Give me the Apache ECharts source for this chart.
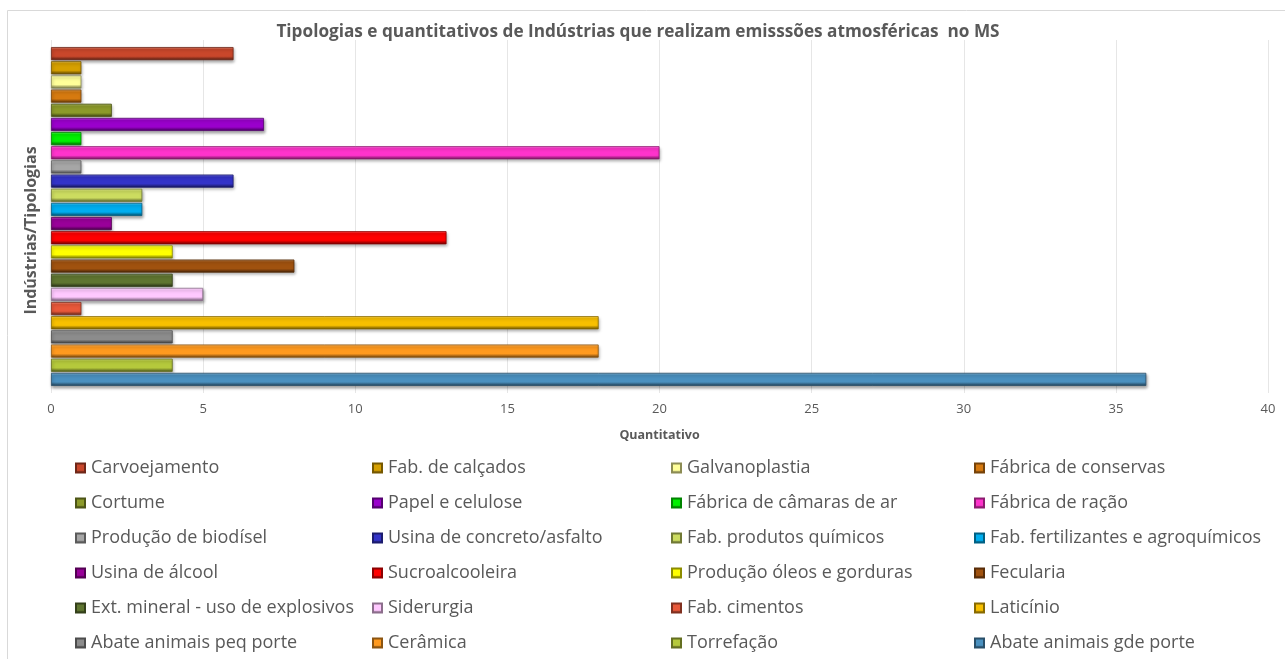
<!DOCTYPE html>
<html><head><meta charset="utf-8">
<script src="https://cdn.jsdelivr.net/npm/echarts@6/dist/echarts.min.js"></script>
<style>html,body{margin:0;padding:0;background:#fff}#c{width:1285px;height:659px}</style>
</head><body><div id="c"></div>
<script>
// ---- data ----
const names = ["Carvoejamento","Fab. de calçados","Galvanoplastia","Fábrica de conservas","Cortume","Papel e celulose","Fábrica de câmaras de ar","Fábrica de ração","Produção de biodísel","Usina de concreto/asfalto","Fab. produtos químicos","Fab. fertilizantes e agroquímicos","Usina de álcool","Sucroalcooleira","Produção óleos e gorduras","Fecularia","Ext. mineral - uso de explosivos","Siderurgia","Fab. cimentos","Laticínio","Abate animais peq porte","Cerâmica","Torrefação","Abate animais gde porte"];
const values = [6,1,1,1,2,7,1,20,1,6,3,3,2,13,4,8,4,5,1,18,4,18,4,36];
const colors = ["#C9472B","#D6A000","#FFFF99","#D67A10","#8C9A2A","#9A00CC","#00F000","#FF33CC","#A6A6A6","#3333C8","#CCDC60","#00AEEF","#990099","#FF0000","#FFFF00","#A0520F","#5F7530","#FFC8FF","#E8583A","#F8C000","#8C8C8C","#FF9A1F","#B5C93C","#4A90BF"];
const xTicks = [0,5,10,15,20,25,30,35,40];

function mix(hex, target, t){
  const n = parseInt(hex.slice(1),16);
  let r=(n>>16)&255,g=(n>>8)&255,b=n&255;
  r=Math.round(r+(target-r)*t); g=Math.round(g+(target-g)*t); b=Math.round(b+(target-b)*t);
  return 'rgb('+r+','+g+','+b+')';
}
function grad(c){
  return {type:'linear',x:0,y:0,x2:0,y2:1,colorStops:[
    {offset:0,color:mix(c,255,0.35)},{offset:0.18,color:c},{offset:0.7,color:c},{offset:0.85,color:mix(c,0,0.3)},{offset:1,color:mix(c,0,0.6)}]};
}

const series = names.map((n,i)=>({
  name:n, type:'bar', data:[values[i]],
  barGap:'8%', barCategoryGap:'4%',
  itemStyle:{color:grad(colors[i]), borderColor:mix(colors[i],0,0.45), borderWidth:0.8,
    shadowColor:'rgba(0,0,0,0.35)', shadowBlur:3, shadowOffsetX:1, shadowOffsetY:2}
}));

const legendCols = [75, 372, 671, 974];
const legends = legendCols.map((x,ci)=>({
  orient:'vertical', left:x, top:459, padding:0, itemGap:17, itemWidth:9, itemHeight:9, icon:'rect',
  selectedMode:false,
  data: names.filter((_,i)=>i%4===ci),
  textStyle:{fontFamily:'Open Sans', fontSize:18, color:'#595959', lineHeight:18, padding:[0,0,0,1]}
}));

const chart = echarts.init(document.getElementById('c'));
chart.setOption({
  animation:false,
  title:{text:'Tipologias e quantitativos de Indústrias que realizam emisssões atmosféricas  no MS', left:633, top:19,
    textStyle:{fontFamily:'Open Sans', fontWeight:'bold', fontSize:17.2, color:'#595959'}, textAlign:'center'},
  graphic:[{type:'rect', shape:{x:7.5,y:10.5,width:1290,height:660}, style:{fill:null, stroke:'#D9D9D9', lineWidth:1}, silent:true}],
  legend: legends,
  grid:{left:51, right:17, top:40, bottom:266, containLabel:false},
  xAxis:{type:'value', min:xTicks[0], max:xTicks[xTicks.length-1], interval:5,
    name:'Quantitativo', nameLocation:'middle', nameGap:36,
    nameTextStyle:{fontFamily:'Open Sans', fontWeight:'bold', fontSize:12.5, color:'#595959'},
    axisLine:{show:false}, axisTick:{show:false},
    axisLabel:{fontFamily:'Open Sans', fontSize:13, color:'#595959', margin:10},
    splitLine:{lineStyle:{color:'#E6E6E6', width:1}}},
  yAxis:{type:'category', data:[''],
    name:'Indústrias/Tipologias', nameLocation:'middle', nameGap:12, nameRotate:90,
    nameTextStyle:{fontFamily:'Open Sans', fontWeight:'bold', fontSize:16, color:'#595959', padding:[0,28,0,0]},
    axisLine:{show:false}, axisTick:{show:false}, axisLabel:{show:false}},
  series: series
});
</script></body></html>
